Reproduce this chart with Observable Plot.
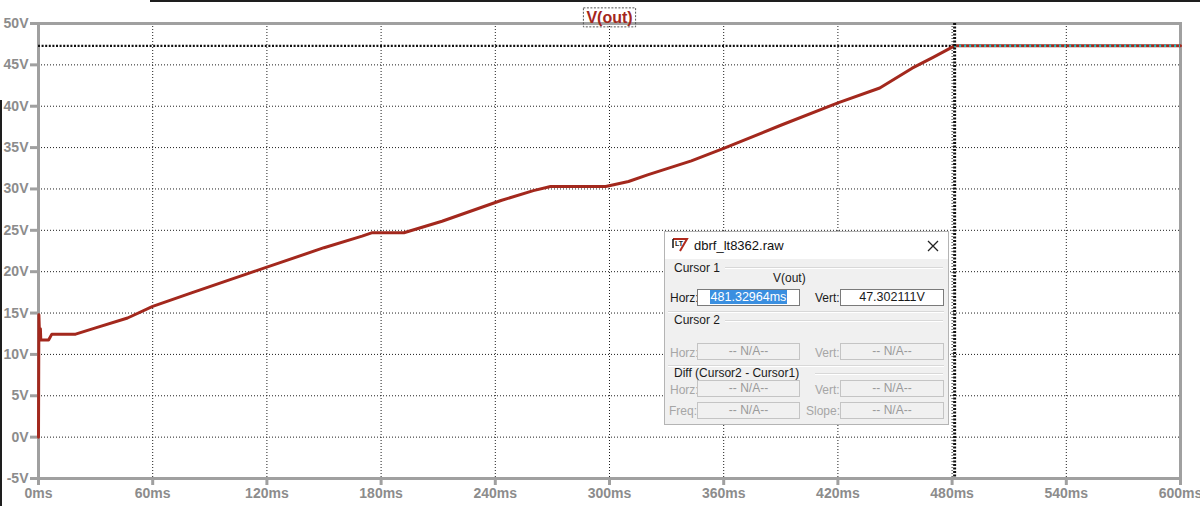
<!DOCTYPE html>
<html>
<head>
<meta charset="utf-8">
<script src="https://cdn.jsdelivr.net/npm/d3@7"></script>
<script src="https://cdn.jsdelivr.net/npm/@observablehq/plot@0.6"></script>
<style>
  html, body { margin: 0; padding: 0; background: #fff; }
  #wrap { position: relative; width: 1200px; height: 506px; overflow: hidden; font-family: "Liberation Sans", Arial, sans-serif; }
  #edgeTop { position: absolute; left: 150px; top: 0; width: 1050px; height: 2px; background: #1e1e1e; }
  #edgeLeft { position: absolute; left: 0; top: 100px; width: 2px; height: 406px; background: #1e1e1e; }
  .dlg { position: absolute; left: 664px; top: 231px; width: 283px; height: 192px; background: #f0f0f0; border: 1px solid #b4b4b4; font-size: 12px; color: #1a1a1a; }
  .dlg .bar { position: absolute; left: 0; top: 0; width: 283px; height: 27px; background: #fff; }
  .dlg .ttl { position: absolute; left: 29px; top: 6px; font-size: 13px; color: #111; }
  .dlg .abs { position: absolute; white-space: nowrap; line-height: 14px; }
  .dlg .box { position: absolute; height: 15px; border: 1px solid #7a7a7a; background: #fff; text-align: center; line-height: 15px; font-size: 12.5px; }
  .dlg .dis { border-color: #c4c4c4; background: #f0f0f0; color: #9a9a9a; font-size: 12px; }
  .dlg .lbl.off { color: #a6a6a6; }
  .dlg .sep { position: absolute; height: 1px; background: #d8d8d8; border-bottom: 1px solid #fff; }
  .hl { background: #3a8fe0; color: #fff; padding: 0 1px; }
</style>
</head>
<body>
<div id="wrap"></div>
<script>
// ---- data ----
const timeMs = [0, 0.2, 0.6, 1.0, 1.2, 5.3, 7.0, 19.5, 30, 46.8, 60, 80, 113, 150, 170, 175, 192, 212, 243, 260, 269, 298, 310, 320, 343, 360, 390, 420, 442, 459, 470, 481.3, 500, 540, 600];
const vout   = [0, 14.8, 11.8, 13.1, 11.75, 11.75, 12.45, 12.45, 13.2, 14.4, 15.8, 17.4, 20.0, 22.9, 24.3, 24.7, 24.7, 26.1, 28.6, 29.8, 30.3, 30.3, 30.9, 31.7, 33.4, 34.9, 37.7, 40.4, 42.2, 44.6, 45.9, 47.3, 47.3, 47.3, 47.3];
const xTicks = [0, 60, 120, 180, 240, 300, 360, 420, 480, 540, 600];
const yTicks = [-5, 0, 5, 10, 15, 20, 25, 30, 35, 40, 45, 50];
const cursorT = [481.32964];
const cursorV = [47.302111];
const traceName = ["V(out)"];

const data = timeMs.map((t, i) => ({t, v: vout[i]}));
const gridStyle = {stroke: "#1e1e1e", strokeWidth: 1, strokeDasharray: "1,2"};
const axisStyle = {stroke: "#a0a0a0", strokeWidth: 3, fill: "#8c8c8c", fontSize: 14, fontWeight: "bold", label: null};

const chart = Plot.plot({
  width: 1200, height: 506,
  marginLeft: 38, marginRight: 20, marginTop: 23, marginBottom: 28,
  x: {domain: [0, 600]},
  y: {domain: [-5, 50]},
  style: {fontFamily: "'Liberation Sans', Arial, sans-serif", background: "transparent", overflow: "visible"},
  marks: [
    Plot.ruleX(xTicks.slice(1, -1), gridStyle),
    Plot.ruleY(yTicks.slice(1, -1), gridStyle),
    Plot.frame({stroke: "#a0a0a0", strokeWidth: 3}),
    Plot.axisX({ticks: xTicks, tickFormat: d => d + "ms", tickSize: 7, tickPadding: 3, ...axisStyle}),
    Plot.axisY({ticks: yTicks, tickFormat: d => d + "V", tickSize: 8, tickPadding: 2, ...axisStyle}),
    Plot.ruleY(cursorV, {x1: 0, x2: cursorT[0], stroke: "#111", strokeWidth: 2.2, strokeDasharray: "2,1.6"}),
    Plot.line(data, {x: "t", y: "v", stroke: "#a3281d", strokeWidth: 3, curve: "linear"}),
    Plot.ruleY(cursorV, {x1: cursorT[0], x2: 600, stroke: "#1fc2c2", strokeWidth: 2.4, strokeDasharray: "2,3"}),
    Plot.ruleX(cursorT, {stroke: "#111", strokeWidth: 3, strokeDasharray: "2,1.5"}),
    Plot.text(traceName, {text: d => d, frameAnchor: "top", dy: -12, fill: "#a3261c", fontWeight: "bold", fontSize: 16})
  ]
});

const wrap = document.getElementById("wrap");
wrap.appendChild(chart);
wrap.insertAdjacentHTML("beforeend", '<div id="edgeTop"></div><div id="edgeLeft"></div>');

// dashed box around the trace title
const tnode = d3.select(chart).selectAll("text").filter(function () { return this.textContent === traceName[0]; }).node();
if (tnode) {
  const bb = tnode.getBBox();
  const r = d3.select(tnode.parentNode).insert("rect", ":first-child")
    .attr("x", bb.x - 3).attr("y", bb.y - 1).attr("width", bb.width + 6).attr("height", bb.height + 2)
    .attr("fill", "none").attr("stroke", "#555").attr("stroke-dasharray", "2,1.5").attr("stroke-width", 1);
  const tf = tnode.getAttribute("transform");
  if (tf) r.attr("transform", tf);
}

// cursor readout window
const dlg = document.createElement("div");
dlg.className = "dlg";
dlg.innerHTML = `
  <div class="bar">
    <svg style="position:absolute;left:6px;top:5px" width="18" height="16" viewBox="0 0 18 16">
      <path d="M2 2 H16 L9 14" fill="none" stroke="#b02a1e" stroke-width="2"/>
      <path d="M2 2 V11" stroke="#222" stroke-width="1.6"/>
      <text x="4" y="9" font-size="7" font-weight="bold" fill="#222">LT</text>
    </svg>
    <div class="ttl">dbrf_lt8362.raw</div>
    <svg style="position:absolute;left:262px;top:8px" width="12" height="12"><path d="M1 1 L11 11 M11 1 L1 11" stroke="#222" stroke-width="1.3"/></svg>
  </div>
  <div class="sep" style="left:60px;top:35px;width:218px"></div>
  <div class="abs" style="left:9px;top:29px">Cursor 1</div>
  <div class="abs" style="left:108px;top:39px">V(out)</div>
  <div class="abs lbl" style="left:5px;top:59px">Horz:</div>
  <div class="box" style="left:32px;top:57px;width:101px"><span class="hl">481.32964ms</span></div>
  <div class="abs lbl" style="left:150px;top:59px">Vert:</div>
  <div class="box" style="left:175px;top:57px;width:102px">47.302111V</div>
  <div class="sep" style="left:3px;top:79px;width:276px"></div>
  <div class="sep" style="left:60px;top:88px;width:218px"></div>
  <div class="abs" style="left:9px;top:81px">Cursor 2</div>
  <div class="abs lbl off" style="left:5px;top:114px">Horz:</div>
  <div class="box dis" style="left:32px;top:111px;width:101px">-- N/A--</div>
  <div class="abs lbl off" style="left:150px;top:114px">Vert:</div>
  <div class="box dis" style="left:175px;top:111px;width:102px">-- N/A--</div>
  <div class="sep" style="left:3px;top:133px;width:276px"></div>
  <div class="sep" style="left:150px;top:141px;width:128px"></div>
  <div class="abs" style="left:9px;top:134px">Diff (Cursor2 - Cursor1)</div>
  <div class="abs lbl off" style="left:5px;top:151px">Horz:</div>
  <div class="box dis" style="left:32px;top:148px;width:101px">-- N/A--</div>
  <div class="abs lbl off" style="left:150px;top:151px">Vert:</div>
  <div class="box dis" style="left:175px;top:148px;width:102px">-- N/A--</div>
  <div class="abs lbl off" style="left:4px;top:172px">Freq:</div>
  <div class="box dis" style="left:32px;top:170px;width:101px">-- N/A--</div>
  <div class="abs lbl off" style="left:141px;top:172px">Slope:</div>
  <div class="box dis" style="left:175px;top:170px;width:102px">-- N/A--</div>
`;
wrap.appendChild(dlg);
</script>
</body>
</html>
